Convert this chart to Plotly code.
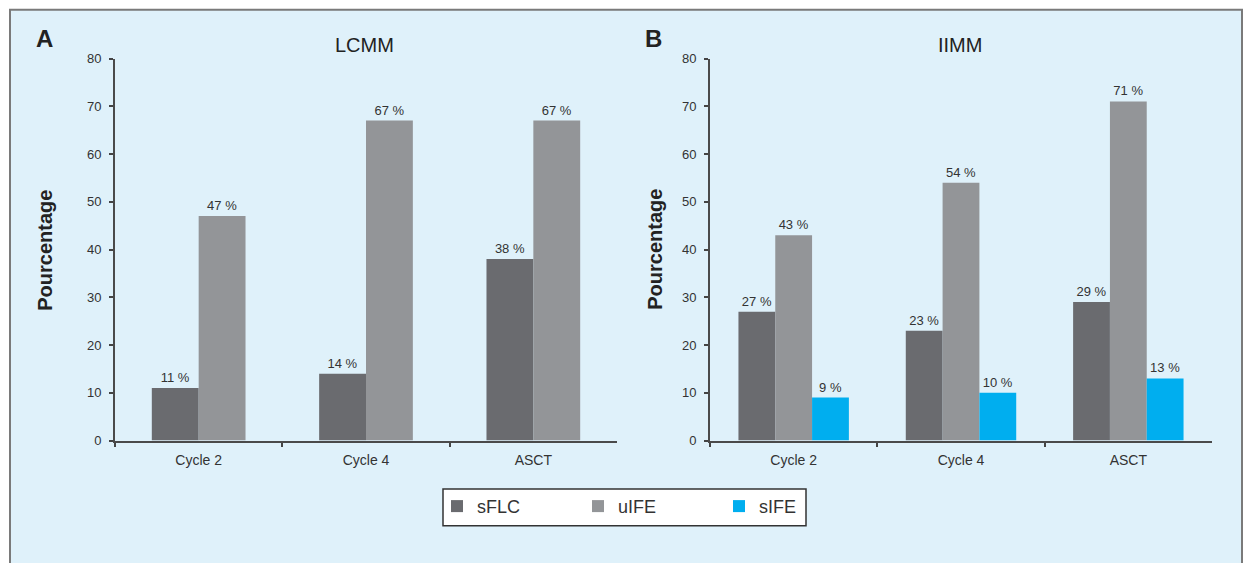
import plotly.graph_objects as go

# Categories and series
categories = ["Cycle 2", "Cycle 4", "ASCT"]
lcmm_sflc = [11, 14, 38]
lcmm_uife = [47, 67, 67]
iimm_sflc = [27, 23, 29]
iimm_uife = [43, 54, 71]
iimm_sife = [9, 10, 13]

y_ticks = [0, 10, 20, 30, 40, 50, 60, 70, 80]

W, H = 1243, 563
C_SFLC = "#6a6b6f"
C_UIFE = "#939598"
C_SIFE = "#00aeef"
FONT = "Liberation Sans, Arial, sans-serif"
TXT = "#333333"

# screen-pixel -> paper helpers (vertical placement corrected for page offset)
Y_OFF, Y_SCALE = 6.3, 0.977


def px_x(p):
    return p / W


def px_y(p):
    return 1 - ((p - Y_OFF) / Y_SCALE) / H


fig = go.Figure()

label_font = dict(family=FONT, size=13, color=TXT)


def add_bar(name, values, color, xa, ya, show, offset, width):
    fig.add_trace(go.Bar(
        x=categories, y=values, name=name, legendgroup=name, showlegend=show,
        marker=dict(color=color, line=dict(width=0)),
        offset=offset, width=width,
        text=[f"{v} %" for v in values], textposition="outside",
        textfont=label_font, cliponaxis=False,
        xaxis=xa, yaxis=ya,
    ))


# LCMM: two series per group
add_bar("sFLC", lcmm_sflc, C_SFLC, "x", "y", False, -0.28, 0.28)
add_bar("uIFE", lcmm_uife, C_UIFE, "x", "y", False, 0.0, 0.28)
# IIMM: three series per group
add_bar("sFLC", iimm_sflc, C_SFLC, "x2", "y2", True, -0.33, 0.22)
add_bar("uIFE", iimm_uife, C_UIFE, "x2", "y2", True, -0.11, 0.22)
add_bar("sIFE", iimm_sife, C_SIFE, "x2", "y2", True, 0.11, 0.22)

ydom = [px_y(441.5), px_y(58)]
yax = dict(range=[0, 80], tickvals=y_ticks, ticks="outside", ticklen=4,
           tickwidth=1.5, tickcolor="#444", showline=True, linecolor="#4a4a4a",
           linewidth=2, showgrid=False, zeroline=False, ticklabelstandoff=5,
           tickfont=dict(family=FONT, size=13, color=TXT), domain=ydom)
xax = dict(type="category", ticks="outside", tickson="boundaries", ticklen=4,
           tickwidth=1.5, tickcolor="#444", showline=True, linecolor="#4a4a4a",
           linewidth=2, showgrid=False, ticklabelstandoff=6,
           tickfont=dict(family=FONT, size=14, color=TXT))

fig.update_layout(
    width=W, height=H,
    margin=dict(l=0, r=0, t=0, b=0),
    paper_bgcolor="white", plot_bgcolor="white",
    barmode="group",
    xaxis=dict(xax, domain=[px_x(115), px_x(617)], anchor="y"),
    yaxis=dict(yax, anchor="x"),
    xaxis2=dict(xax, domain=[px_x(710), px_x(1212)], anchor="y2"),
    yaxis2=dict(yax, anchor="x2"),
    legend=dict(orientation="h", x=px_x(437), y=px_y(489), xanchor="left",
                yanchor="top", bgcolor="rgba(0,0,0,0)", borderwidth=0,
                font=dict(family=FONT, size=18, color=TXT),
                entrywidth=96, entrywidthmode="pixels", traceorder="normal"),
    showlegend=True,
)

# Light blue panel with grey frame behind everything
fig.add_shape(type="rect", xref="paper", yref="paper",
              x0=px_x(10), x1=px_x(1242), y0=px_y(568), y1=px_y(9),
              fillcolor="#dff1fa", line=dict(color="#7a7a7a", width=2),
              layer="below")
# Legend box
fig.add_shape(type="rect", xref="paper", yref="paper",
              x0=px_x(443), x1=px_x(806), y0=px_y(527), y1=px_y(490),
              fillcolor="white", line=dict(color="#333333", width=1.5),
              layer="below")

ann = []
ann.append(dict(text="<b>A</b>", x=px_x(44), y=px_y(38), font=dict(family=FONT, size=24, color="#222")))
ann.append(dict(text="<b>B</b>", x=px_x(653), y=px_y(38), font=dict(family=FONT, size=24, color="#222")))
ann.append(dict(text="LCMM", x=px_x(364), y=px_y(44), font=dict(family=FONT, size=20, color="#222")))
ann.append(dict(text="IIMM", x=px_x(960), y=px_y(44), font=dict(family=FONT, size=20, color="#222")))
ann.append(dict(text="<b>Pourcentage</b>", x=px_x(45), y=px_y(251), textangle=-90,
                font=dict(family=FONT, size=20, color="#222")))
ann.append(dict(text="<b>Pourcentage</b>", x=px_x(655), y=px_y(250), textangle=-90,
                font=dict(family=FONT, size=20, color="#222")))
for a in ann:
    a.update(xref="paper", yref="paper", showarrow=False, xanchor="center", yanchor="middle")
fig.update_layout(annotations=ann)

fig.write_html("out.html")
